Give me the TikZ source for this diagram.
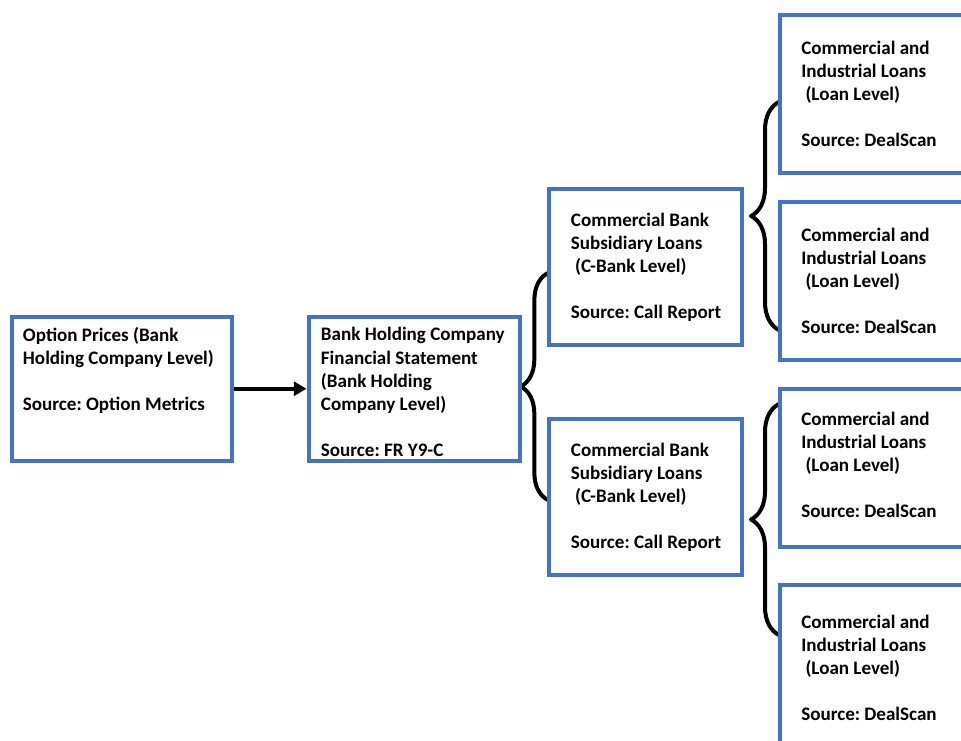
\documentclass[tikz,border=0pt]{standalone}
\usepackage{fontspec}
\setmainfont{Carlito}
\frenchspacing
\usetikzlibrary{arrows.meta, positioning, calc, fit, decorations.pathreplacing}
\definecolor{bkBlue}{HTML}{4472C4}
\tikzset{
  bkbox/.style={rectangle, draw=bkBlue, line width=3pt, inner sep=0pt},
  bktext/.style={anchor=base west, align=left, inner sep=0pt, text=black,
                 font=\fontsize{14.3pt}{17.3pt}\selectfont\bfseries},
  bkflow/.style={-{Triangle[length=9.5pt, width=10.5pt]}, line width=3pt},
  bkbrace/.style={decorate, decoration={brace, amplitude=#1}, line width=3pt,
                  line join=round},
}

\begin{document}
\begin{tikzpicture}[x=0.75pt, y=-0.75pt]
  \useasboundingbox (0,0) rectangle (961,740);
  \clip (0,0) rectangle (961,740);
  % braces first, boxes drawn over their ends
  \coordinate (b1lo) at (548,500);
  \coordinate (b1hi) at (548,273);
  \coordinate (b2lo) at (779,330);
  \coordinate (b2hi) at (779,102);
  \coordinate (b3lo) at (779,635);
  \coordinate (b3hi) at (779,404);
  \draw[bkbrace=20.5pt](b1lo)--(b1hi);
  \draw[bkbrace=21pt](b2lo)--(b2hi);
  \draw[bkbrace=21pt](b3lo)--(b3hi);
  % boxes
  \node[bkbox, fit={(11.5,317) (232,460.5)}](opt){};
  \node[bkbox, fit={(308.5,317) (520,460.5)}](bhc){};
  \node[bkbox, fit={(549,188.5) (742,344.7)}](cbA){};
  \node[bkbox, fit={(549,418.7) (742,575)}](cbB){};
  \node[bkbox, fit={(779.5,15.3) (972,173)}](ciA){};
  \node[bkbox, fit={(779.5,202) (972,360.3)}](ciB){};
  \node[bkbox, fit={(779.5,388.7) (972,547)}](ciC){};
  \node[bkbox, fit={(779.5,584.7) (972,743)}](ciD){};
  % texts (anchored at the baseline of the last line)
  \node[bktext] at (22.7,410.2)(optT){Option Prices (Bank\\Holding Company Level)\\[17.3pt]Source: Option Metrics};
  \node[bktext] at (320.7,456.3)(bhcT){Bank Holding Company\\Financial Statement\\(Bank Holding\\Company Level)\\[17.3pt]Source: FR Y9-C};
  \node[bktext] at (570.7,318.3)(cbAT){Commercial Bank\\Subsidiary Loans\\\hspace*{3.2pt}(C-Bank Level)\\[17.3pt]Source: Call Report};
  \node[bktext] at (570.7,548.3)(cbBT){Commercial Bank\\Subsidiary Loans\\\hspace*{3.2pt}(C-Bank Level)\\[17.3pt]Source: Call Report};
  \node[bktext] at (801,146.3)(ciAT){Commercial and\\Industrial Loans\\\hspace*{3.2pt}(Loan Level)\\[17.3pt]Source: DealScan};
  \node[bktext] at (801,333.3)(ciBT){Commercial and\\Industrial Loans\\\hspace*{3.2pt}(Loan Level)\\[17.3pt]Source: DealScan};
  \node[bktext] at (801,517.3)(ciCT){Commercial and\\Industrial Loans\\\hspace*{3.2pt}(Loan Level)\\[17.3pt]Source: DealScan};
  \node[bktext] at (801,720.3)(ciDT){Commercial and\\Industrial Loans\\\hspace*{3.2pt}(Loan Level)\\[17.3pt]Source: DealScan};
  \draw[bkflow](opt)--(bhc);
\end{tikzpicture}
\end{document}
